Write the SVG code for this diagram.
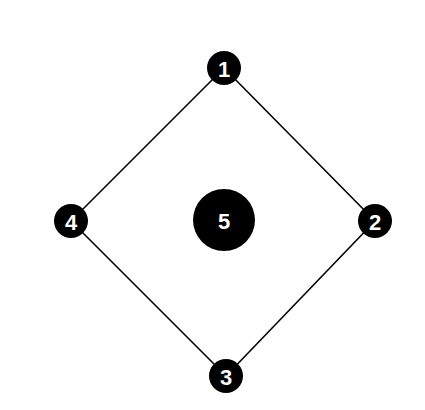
<svg xmlns="http://www.w3.org/2000/svg" width="425" height="410" viewBox="0 0 425 410">
<style>
.n{fill:#000}
.t{fill:#fff;font-family:"Liberation Sans",Arial,sans-serif;font-weight:bold;font-size:22px;text-anchor:middle;dominant-baseline:central}
.e{stroke:#000;stroke-width:1.6;fill:none}
</style>
<rect width="425" height="410" fill="#fff"/>
<g id="connectors">
<line class="e" x1="224" y1="68" x2="375" y2="221"/>
<line class="e" x1="375" y1="221" x2="226" y2="376"/>
<line class="e" x1="226" y1="376" x2="71" y2="221"/>
<line class="e" x1="71" y1="221" x2="224" y2="68"/>
</g>
<g id="node1"><circle class="n" cx="224" cy="68" r="17"/><text class="t" x="224" y="69">1</text></g>
<g id="node2"><circle class="n" cx="375" cy="221" r="17"/><text class="t" x="375" y="222">2</text></g>
<g id="node3"><circle class="n" cx="226" cy="376" r="17"/><text class="t" x="226" y="377">3</text></g>
<g id="node4"><circle class="n" cx="71" cy="221" r="17"/><text class="t" x="71" y="222">4</text></g>
<g id="node5"><circle class="n" cx="224" cy="220" r="31"/><text class="t" x="224" y="221">5</text></g>
</svg>
